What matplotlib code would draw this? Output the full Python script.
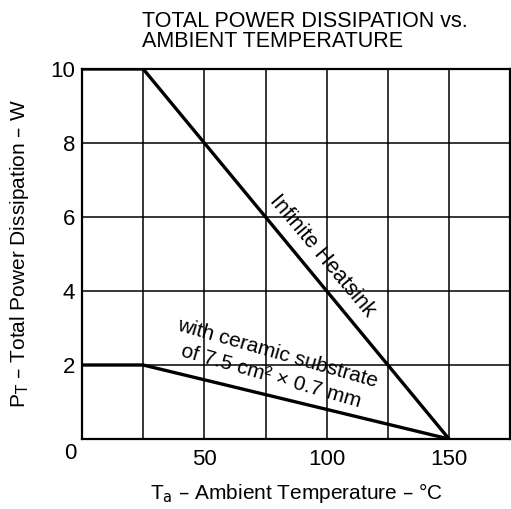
import numpy as np
import matplotlib
matplotlib.use('Agg')
import matplotlib.pyplot as plt

plt.rcParams['font.family'] = ['Liberation Sans', 'DejaVu Sans']

# Ambient temperature (°C) and allowed power dissipation (W)
temp_heatsink = [0, 25, 150]
power_heatsink = [10, 10, 0]

temp_ceramic = [0, 25, 150]
power_ceramic = [2, 2, 0]

x_ticks = [50, 100, 150]
x_grid = [25, 50, 75, 100, 125, 150]
y_ticks = [2, 4, 6, 8, 10]

fig = plt.figure(figsize=(5.11, 5.09), dpi=100)
ax = fig.add_axes([0.1605, 0.1375, 0.838, 0.727])

ax.plot(temp_heatsink, power_heatsink, color='black', lw=2.4, solid_capstyle='butt')
ax.plot(temp_ceramic, power_ceramic, color='black', lw=2.4, solid_capstyle='butt')

ax.set_xlim(0, 175)
ax.set_ylim(0, 10)
ax.set_xticks(x_ticks)
ax.set_xticks(x_grid, minor=True)
ax.set_yticks(y_ticks)
ax.tick_params(axis='both', which='both', length=0, labelsize=16)
ax.tick_params(axis='x', pad=7)
ax.tick_params(axis='y', pad=5)
ax.grid(True, which='both', color='black', lw=1.1)
for s in ax.spines.values():
    s.set_linewidth(1.6)

# shared corner label
ax.text(-0.028, -0.04, '0', transform=ax.transAxes, ha='center', va='center', fontsize=16)

ax.text(98, 4.95, 'Infinite Heatsink', rotation=-50, ha='center', va='center',
        fontsize=15.5, rotation_mode='anchor')
ax.text(78.5, 2.0, 'with ceramic substrate\nof 7.5 cm² × 0.7 mm', rotation=-16,
        ha='center', va='center', multialignment='center', fontsize=15,
        rotation_mode='anchor', linespacing=1.3)

ax.set_xlabel('T$_{\\mathrm{a}}$ – Ambient Temperature – °C', fontsize=15, labelpad=8)
ax.set_ylabel('P$_{\\mathrm{T}}$ – Total Power Dissipation – W', fontsize=15, labelpad=14)

fig.text(0.278, 0.978, 'TOTAL POWER DISSIPATION vs.\nAMBIENT TEMPERATURE',
         ha='left', va='top', fontsize=15.5, linespacing=0.9)

fig.savefig('out.png', dpi=100)
